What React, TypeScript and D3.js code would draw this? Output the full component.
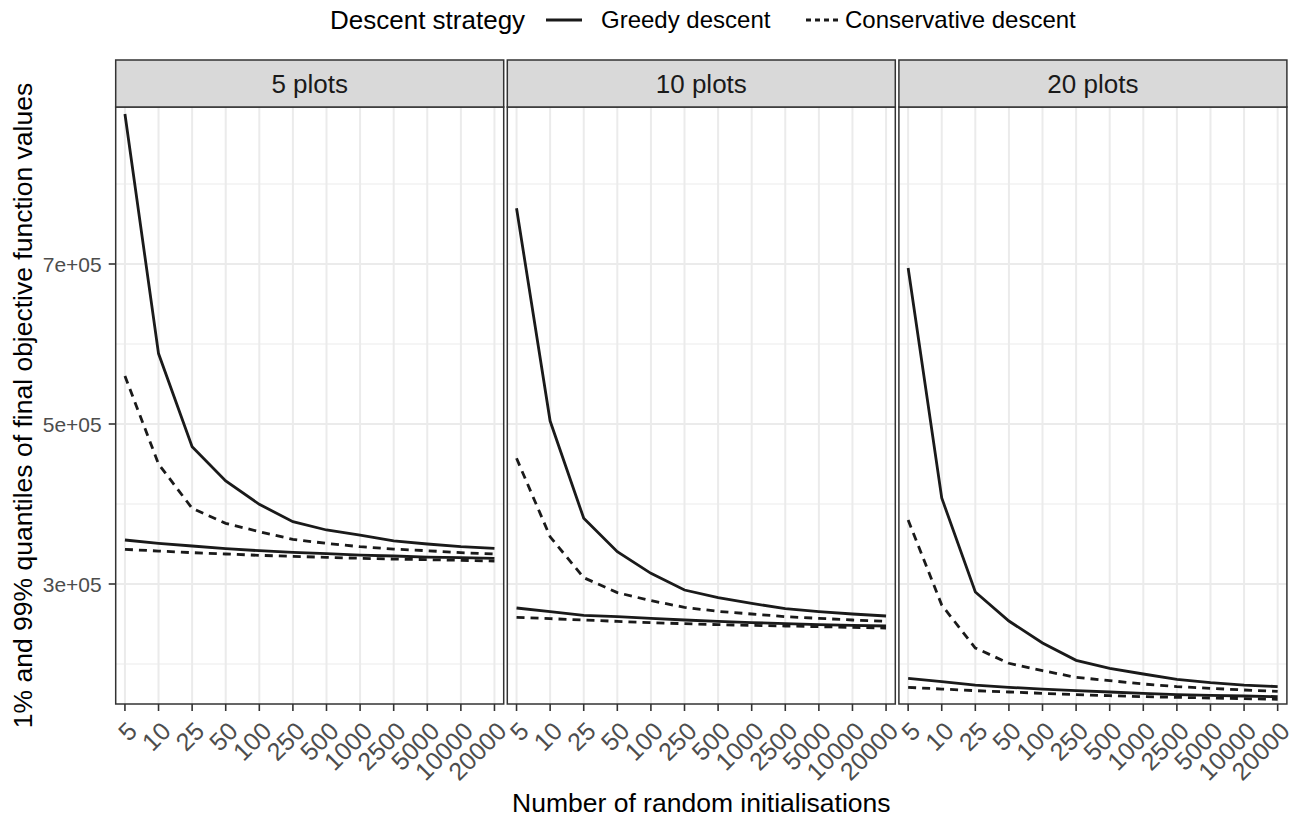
import React from "react";
import * as d3 from "d3";

// x categories (number of random initialisations)
const inits = ["5", "10", "25", "50", "100", "250", "500", "1000", "2500", "5000", "10000", "20000"];
const panels = ["5 plots", "10 plots", "20 plots"];

// 99% quantiles (upper lines) and 1% quantiles (lower lines)
const greedyHi5 = [887500, 588000, 471600, 428800, 399600, 377900, 367500, 361200, 354000, 350000, 346600, 344600];
const greedyLo5 = [355000, 350800, 347500, 344100, 341600, 339600, 337900, 336200, 335000, 333700, 332900, 332100];
const consHi5 = [560000, 450000, 394600, 375800, 365400, 355800, 350800, 346600, 343700, 341600, 339200, 337500];
const consLo5 = [343300, 341200, 339200, 337500, 335800, 334600, 333300, 332100, 331200, 330400, 329600, 328700];

const greedyHi10 = [769600, 503700, 382100, 340400, 313300, 292500, 282900, 275800, 269200, 265400, 262500, 260000];
const greedyLo10 = [270000, 265400, 260800, 259200, 257100, 255000, 253300, 251700, 250400, 249200, 248300, 247500];
const consHi10 = [457100, 359000, 307900, 289200, 279200, 270800, 265800, 262500, 259200, 257100, 255000, 253300];
const consLo10 = [258300, 256700, 255000, 253300, 251700, 250400, 249200, 248300, 247500, 246700, 245800, 245000];

const greedyHi20 = [695000, 407500, 290000, 253700, 226200, 204600, 194600, 187500, 180800, 176700, 173700, 171700];
const greedyLo20 = [182100, 177900, 173700, 170800, 168700, 166700, 165000, 163300, 161700, 160800, 160000, 159200];
const consHi20 = [380000, 273700, 220000, 200900, 191700, 183300, 179200, 175000, 171700, 169600, 167500, 165900];
const consLo20 = [170800, 168700, 166700, 165000, 163300, 161700, 160400, 159200, 158300, 157500, 156700, 155900];

const greedyByPanel = [[greedyHi5, greedyLo5], [greedyHi10, greedyLo10], [greedyHi20, greedyLo20]];
const consByPanel = [[consHi5, consLo5], [consHi10, consLo10], [consHi20, consLo20]];

const yMajor = [300000, 500000, 700000];
const yMinor = [200000, 400000, 600000, 800000];
const yDomain = [150000, 896250];

const W = 1298;
const H = 820;
const FONT = "'Liberation Sans', Arial, Helvetica, sans-serif";
const panelTop = 107;
const panelBottom = 704;
const stripTop = 60;
const panelW = 388;
const panelGap = 3.6;
const firstLeft = 115.7;
const LINE = "#1a1a1a";
const LW = 2.8;

const fmt = (v: number) => `${v / 100000}e+05`;

const App = () => {
  const y = d3.scaleLinear().domain(yDomain).range([panelBottom, panelTop]);
  const panelLefts = panels.map((_, i) => firstLeft + i * (panelW + panelGap));
  const lastRight = panelLefts[2] + panelW;

  return (
    <svg width={W} height={H} style={{ position: "absolute", left: 0, top: 0, background: "#fff" }} fontFamily={FONT}>
      {/* legend */}
      <g>
        <text x={330} y={29} fontSize={26} fill="#000">Descent strategy</text>
        <line x1={546} x2={582} y1={20} y2={20} stroke={LINE} strokeWidth={LW} />
        <text x={601} y={28} fontSize={24} fill="#000">Greedy descent</text>
        <line x1={806} x2={840} y1={20} y2={20} stroke={LINE} strokeWidth={LW} strokeDasharray="5,4" />
        <text x={845} y={28} fontSize={24} fill="#000">Conservative descent</text>
      </g>

      {panels.map((name, p) => {
        const x0 = panelLefts[p];
        const x = d3.scalePoint<string>().domain(inits).range([x0, x0 + panelW]).padding(0.275);
        const path = d3
          .line<number>()
          .x((_, i) => x(inits[i]) as number)
          .y((d) => y(d));
        return (
          <g key={name}>
            {/* grid */}
            {yMinor.map((v) => (
              <line key={"mi" + v} x1={x0} x2={x0 + panelW} y1={y(v)} y2={y(v)} stroke="#EBEBEB" strokeWidth={1} />
            ))}
            {yMajor.map((v) => (
              <line key={"ma" + v} x1={x0} x2={x0 + panelW} y1={y(v)} y2={y(v)} stroke="#EBEBEB" strokeWidth={2} />
            ))}
            {inits.map((c) => (
              <line key={"gx" + c} x1={x(c)} x2={x(c)} y1={panelTop} y2={panelBottom} stroke="#EBEBEB" strokeWidth={2} />
            ))}

            {/* lines */}
            {greedyByPanel[p].map((s, k) => (
              <path key={"g" + k} d={path(s) || ""} fill="none" stroke={LINE} strokeWidth={LW} />
            ))}
            {consByPanel[p].map((s, k) => (
              <path key={"c" + k} d={path(s) || ""} fill="none" stroke={LINE} strokeWidth={LW} strokeDasharray="8,6" />
            ))}

            {/* panel border */}
            <rect x={x0} y={panelTop} width={panelW} height={panelBottom - panelTop} fill="none" stroke="#333333" strokeWidth={1.5} />

            {/* strip */}
            <rect x={x0} y={stripTop} width={panelW} height={panelTop - stripTop} fill="#D9D9D9" stroke="#333333" strokeWidth={1.5} />
            <text x={x0 + panelW / 2} y={93} textAnchor="middle" fontSize={26} fill="#1A1A1A">{name}</text>

            {/* x axis */}
            {inits.map((c) => (
              <g key={"xt" + c}>
                <line x1={x(c)} x2={x(c)} y1={panelBottom} y2={panelBottom + 7} stroke="#333333" strokeWidth={1.6} />
                <text
                  transform={`translate(${(x(c) as number) + 1},${panelBottom + 16}) rotate(-45)`}
                  textAnchor="end"
                  dy="0.72em"
                  fontSize={25}
                  fill="#4D4D4D"
                >
                  {c}
                </text>
              </g>
            ))}
          </g>
        );
      })}

      {/* y axis on first panel */}
      {yMajor.map((v) => (
        <g key={"yt" + v}>
          <line x1={panelLefts[0] - 7} x2={panelLefts[0]} y1={y(v)} y2={y(v)} stroke="#333333" strokeWidth={1.6} />
          <text x={panelLefts[0] - 14} y={y(v)} dy="0.36em" textAnchor="end" fontSize={21} fill="#4D4D4D">
            {fmt(v)}
          </text>
        </g>
      ))}

      {/* axis titles */}
      <text x={(panelLefts[0] + lastRight) / 2} y={812} textAnchor="middle" fontSize={26.5} fill="#000">
        Number of random initialisations
      </text>
      <text
        transform={`translate(32,${(panelTop + panelBottom) / 2}) rotate(-90)`}
        textAnchor="middle"
        fontSize={26.5}
        fill="#000"
      >
        1% and 99% quantiles of final objective function values
      </text>
    </svg>
  );
};

export default App;
